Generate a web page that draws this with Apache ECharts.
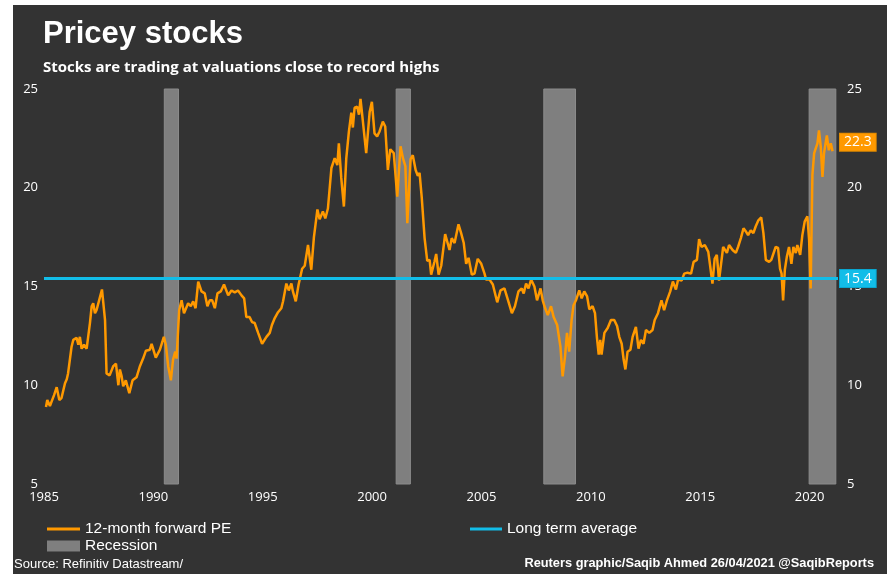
<!DOCTYPE html>
<html>
<head>
<meta charset="utf-8">
<script src="https://cdn.jsdelivr.net/npm/echarts@6/dist/echarts.min.js"></script>
<style>
  html, body { margin: 0; padding: 0; background: #fff; }
  #chart { width: 891px; height: 574px; }
</style>
</head>
<body>
<div id="chart"></div>
<script>
// S&P 500 12-month forward PE, [year, PE]
const pePoints = [
  [1985.09, 8.9], [1985.15, 9.25], [1985.27, 8.95], [1985.46, 9.5], [1985.58, 9.9], [1985.70, 9.25], [1985.80, 9.35], [1985.96, 10.1],
  [1986.04, 10.3], [1986.10, 10.6], [1986.26, 11.95], [1986.34, 12.3], [1986.49, 12.4], [1986.57, 12.05], [1986.64, 12.45], [1986.72, 11.85],
  [1986.83, 12.05], [1986.95, 11.85], [1987.10, 13.15], [1987.18, 14.0], [1987.25, 14.15], [1987.33, 13.65], [1987.40, 13.8], [1987.52, 14.3],
  [1987.65, 14.85], [1987.79, 13.3], [1987.86, 10.6], [1988.00, 10.5], [1988.16, 10.95], [1988.29, 11.1], [1988.40, 10.0], [1988.47, 10.8],
  [1988.55, 10.45], [1988.62, 9.95], [1988.74, 10.25], [1988.90, 9.6], [1989.05, 10.25], [1989.23, 10.4], [1989.38, 10.95], [1989.53, 11.35],
  [1989.66, 11.75], [1989.84, 11.8], [1989.92, 12.1], [1990.11, 11.4], [1990.30, 11.8], [1990.48, 12.45], [1990.57, 12.05], [1990.68, 10.95],
  [1990.80, 10.25], [1990.90, 11.3], [1991.00, 11.7], [1991.06, 11.35], [1991.18, 13.8], [1991.29, 14.3], [1991.40, 13.65], [1991.59, 14.15],
  [1991.71, 14.0], [1991.82, 14.25], [1991.93, 13.9], [1992.05, 15.25], [1992.20, 14.75], [1992.35, 14.65], [1992.47, 14.0], [1992.58, 14.3],
  [1992.69, 14.3], [1992.81, 13.9], [1992.93, 14.65], [1993.08, 14.75], [1993.23, 15.1], [1993.42, 14.55], [1993.57, 14.8], [1993.72, 14.7],
  [1993.87, 14.8], [1994.03, 14.55], [1994.15, 14.4], [1994.25, 13.45], [1994.40, 13.45], [1994.51, 13.2], [1994.63, 13.15], [1994.79, 12.65],
  [1994.97, 12.1], [1995.17, 12.45], [1995.32, 12.65], [1995.42, 13.05], [1995.55, 13.4], [1995.70, 13.7], [1995.85, 13.9], [1995.93, 14.25],
  [1996.00, 14.25], [1996.08, 15.15], [1996.19, 14.8], [1996.31, 15.15], [1996.38, 14.75], [1996.51, 14.25], [1996.64, 15.1], [1996.80, 15.9],
  [1996.92, 16.05], [1997.07, 17.1], [1997.22, 15.85], [1997.34, 17.5], [1997.50, 18.9], [1997.60, 18.4], [1997.75, 18.8], [1997.86, 18.45],
  [1997.98, 18.95], [1998.14, 21.0], [1998.29, 21.5], [1998.41, 21.15], [1998.48, 22.25], [1998.59, 20.5], [1998.71, 19.05], [1998.82, 21.5],
  [1998.94, 22.85], [1999.05, 23.8], [1999.12, 23.05], [1999.20, 24.05], [1999.32, 24.1], [1999.40, 23.7], [1999.47, 24.5], [1999.58, 23.35],
  [1999.73, 21.75], [1999.89, 23.85], [1999.99, 24.35], [2000.11, 22.75], [2000.23, 22.6], [2000.34, 22.85], [2000.49, 23.35], [2000.60, 23.1],
  [2000.72, 20.9], [2000.83, 21.95], [2000.99, 21.75], [2001.15, 19.55], [2001.30, 22.1], [2001.41, 21.5], [2001.52, 21.1], [2001.61, 18.2],
  [2001.76, 21.45], [2001.86, 21.65], [2001.99, 20.9], [2002.09, 20.6], [2002.17, 20.75], [2002.27, 19.5], [2002.40, 17.45], [2002.52, 16.3],
  [2002.63, 16.35], [2002.70, 15.6], [2002.85, 16.25], [2002.93, 16.65], [2003.04, 15.6], [2003.16, 16.05], [2003.34, 17.65], [2003.54, 16.85],
  [2003.64, 17.45], [2003.77, 17.2], [2003.95, 18.15], [2004.07, 17.7], [2004.19, 17.2], [2004.30, 16.15], [2004.41, 16.45], [2004.56, 15.6],
  [2004.68, 15.65], [2004.83, 16.4], [2004.99, 16.15], [2005.14, 15.65], [2005.21, 15.35], [2005.37, 15.35], [2005.52, 15.1], [2005.72, 14.2],
  [2005.87, 14.8], [2006.05, 14.9], [2006.23, 14.25], [2006.39, 13.65], [2006.53, 14.0], [2006.69, 14.75], [2006.84, 14.9], [2006.93, 14.65],
  [2007.04, 15.15], [2007.15, 14.9], [2007.27, 15.35], [2007.42, 15.0], [2007.54, 14.3], [2007.70, 14.9], [2007.80, 14.3], [2007.88, 14.0],
  [2008.03, 13.55], [2008.18, 14.0], [2008.30, 13.45], [2008.46, 13.05], [2008.61, 11.95], [2008.71, 10.45], [2008.82, 11.45], [2008.91, 12.65],
  [2009.01, 11.7], [2009.12, 13.3], [2009.21, 14.05], [2009.32, 14.3], [2009.47, 14.8], [2009.58, 14.4], [2009.70, 14.75], [2009.83, 14.5],
  [2009.93, 13.85], [2010.08, 14.0], [2010.19, 13.65], [2010.28, 12.4], [2010.36, 11.55], [2010.43, 12.3], [2010.49, 11.55], [2010.62, 12.65],
  [2010.77, 12.9], [2010.92, 13.3], [2011.07, 13.3], [2011.20, 13.0], [2011.30, 12.45], [2011.41, 12.1], [2011.50, 11.3], [2011.58, 10.8],
  [2011.68, 11.7], [2011.81, 11.8], [2011.91, 12.45], [2011.99, 12.55], [2012.06, 12.95], [2012.18, 11.85], [2012.29, 12.3], [2012.41, 12.1],
  [2012.52, 12.8], [2012.67, 12.65], [2012.82, 12.8], [2012.92, 13.3], [2013.07, 13.65], [2013.23, 14.3], [2013.35, 13.8], [2013.48, 14.3],
  [2013.63, 14.75], [2013.75, 15.25], [2013.89, 14.85], [2013.99, 15.35], [2014.15, 15.3], [2014.27, 15.65], [2014.42, 15.7], [2014.58, 15.65],
  [2014.70, 16.25], [2014.85, 16.35], [2014.95, 17.4], [2015.06, 17.0], [2015.21, 17.1], [2015.37, 16.75], [2015.46, 16.0], [2015.56, 15.15],
  [2015.66, 16.4], [2015.76, 16.6], [2015.86, 15.3], [2015.93, 15.2], [2016.05, 17.0], [2016.12, 17.0], [2016.22, 16.7], [2016.32, 17.1],
  [2016.48, 16.85], [2016.63, 16.7], [2016.73, 17.0], [2016.86, 17.45], [2016.98, 17.95], [2017.08, 17.8], [2017.19, 17.6], [2017.31, 17.85],
  [2017.43, 17.7], [2017.54, 18.05], [2017.66, 18.35], [2017.79, 18.5], [2017.89, 17.7], [2018.00, 16.35], [2018.15, 16.25], [2018.25, 16.35],
  [2018.34, 16.25], [2018.45, 17.0], [2018.56, 16.95], [2018.65, 15.9], [2018.72, 15.65], [2018.79, 14.3], [2018.87, 15.85], [2018.96, 16.5],
  [2019.06, 17.0], [2019.17, 16.15], [2019.26, 17.0], [2019.37, 16.7], [2019.44, 17.1], [2019.57, 16.6], [2019.67, 17.6], [2019.78, 18.3],
  [2019.90, 18.55], [2019.98, 17.35], [2020.05, 14.9], [2020.13, 20.65], [2020.21, 21.75], [2020.28, 21.8], [2020.36, 22.25], [2020.43, 22.9],
  [2020.51, 22.1], [2020.59, 20.55], [2020.66, 21.75], [2020.79, 22.65], [2020.88, 21.9], [2020.97, 22.25], [2021.05, 21.85]
];

// recession periods, [start, end] in years
const recessions = [[1990.5, 1991.15], [2001.1, 2001.75], [2007.85, 2009.3], [2019.98, 2021.2]];

const longTermAvg = 15.4;
const latestPE = 22.3;

const xMin = 1985, xMax = 2021.3;
const yTicks = [5, 10, 15, 20, 25];

const ORANGE = '#ff9900';
const CYAN = '#12bde8';
const GREY = '#7f7f7f';
const FONT = "'Liberation Sans', Arial, sans-serif";
const AXIS_FONT = "'Open Sans', 'Noto Sans', sans-serif";

const chart = echarts.init(document.getElementById('chart'), null, { renderer: 'canvas' });

const yAxisBase = {
  type: 'value', min: yTicks[0], max: yTicks[yTicks.length - 1], interval: 5,
  axisLine: { show: false }, axisTick: { show: false }, splitLine: { show: false },
  axisLabel: { color: '#ffffff', fontSize: 13, fontFamily: AXIS_FONT }
};

const boxLabel = (bg, border) => ({
  color: '#ffffff', fontSize: 14, fontFamily: AXIS_FONT,
  backgroundColor: bg, borderColor: border, borderWidth: 1, padding: [2, 4, 1, 4]
});

chart.setOption({
  animation: false,
  backgroundColor: '#ffffff',
  graphic: [
    { type: 'rect', z: -10, shape: { x: 13, y: 5, width: 874, height: 569 }, style: { fill: '#333333' }, silent: true },
    { type: 'text', left: 14, top: 558, style: { text: 'Source: Refinitiv Datastream/', fill: '#ffffff', font: '13px ' + FONT } },
    { type: 'text', right: 17, top: 557, style: { text: 'Reuters graphic/Saqib Ahmed 26/04/2021 @SaqibReports', fill: '#ffffff', font: 'bold 12.8px ' + FONT } }
  ],
  title: {
    left: 43, top: 19, padding: 0,
    text: 'Pricey stocks',
    textStyle: { color: '#ffffff', fontSize: 31, fontWeight: 'bold', fontFamily: FONT },
    subtext: 'Stocks are trading at valuations close to record highs',
    subtextStyle: { color: '#ffffff', fontSize: 15, fontWeight: 'bold', fontFamily: AXIS_FONT },
    itemGap: 10
  },
  grid: { left: 44, right: 53, top: 89, bottom: 90 },
  legend: [
    { left: 47, top: 521, padding: 0, itemWidth: 33, itemHeight: 3, icon: 'rect',
      data: ['12-month forward PE'], textStyle: { color: '#ffffff', fontSize: 15.5, fontFamily: FONT } },
    { left: 47, top: 538, padding: 0, itemWidth: 33, itemHeight: 11, icon: 'rect',
      data: ['Recession'], textStyle: { color: '#ffffff', fontSize: 15.5, fontFamily: FONT } },
    { left: 470, top: 521, padding: 0, itemWidth: 32, itemHeight: 3, icon: 'rect',
      data: ['Long term average'], textStyle: { color: '#ffffff', fontSize: 15.5, fontFamily: FONT } }
  ],
  xAxis: {
    type: 'value', min: xMin, max: xMax, interval: 5,
    axisLine: { show: false }, axisTick: { show: false }, splitLine: { show: false },
    axisLabel: { color: '#ffffff', fontSize: 13, fontFamily: AXIS_FONT, margin: 7, showMaxLabel: false, formatter: v => String(v) }
  },
  yAxis: [
    Object.assign({}, yAxisBase, { position: 'left', axisLabel: Object.assign({}, yAxisBase.axisLabel, { margin: 6 }) }),
    Object.assign({}, yAxisBase, { position: 'right', axisLabel: Object.assign({}, yAxisBase.axisLabel, { margin: 9 }) })
  ],
  series: [
    {
      name: 'Recession', type: 'line', data: [], itemStyle: { color: GREY }, lineStyle: { color: GREY },
      markArea: {
        silent: true,
        itemStyle: { color: GREY, borderColor: '#8c8c8c', borderWidth: 1 },
        data: recessions.map(r => [{ xAxis: r[0] }, { xAxis: r[1] }])
      }
    },
    {
      name: '12-month forward PE', type: 'line', data: pePoints, showSymbol: false,
      itemStyle: { color: ORANGE }, lineStyle: { color: ORANGE, width: 2.5 },
      markLine: {
        silent: true, symbol: 'none', lineStyle: { color: 'rgba(0,0,0,0)', width: 0 },
        data: [{ yAxis: latestPE }],
        label: Object.assign({ show: true, position: 'end', distance: 2, formatter: String(latestPE) }, boxLabel(ORANGE, '#e08a00'))
      }
    },
    {
      name: 'Long term average', type: 'line', data: [[xMin, longTermAvg], [xMax, longTermAvg]], showSymbol: false,
      itemStyle: { color: CYAN }, lineStyle: { color: CYAN, width: 3 },
      endLabel: Object.assign({ show: true, distance: 2, formatter: String(longTermAvg) }, boxLabel(CYAN, '#0aa6cf'))
    }
  ]
});
</script>
</body>
</html>
